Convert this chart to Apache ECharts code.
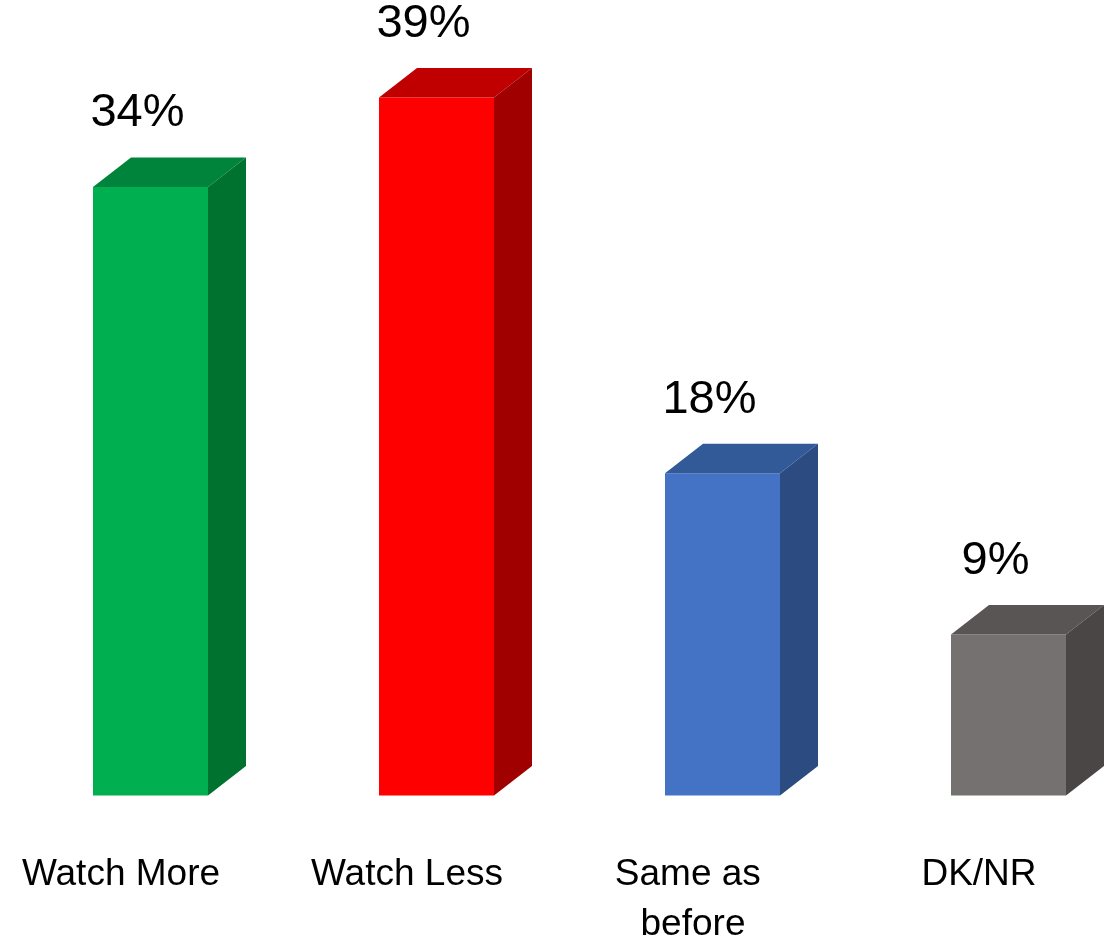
<!DOCTYPE html>
<html>
<head>
<meta charset="utf-8">
<script src="https://cdn.jsdelivr.net/npm/echarts@6/dist/echarts.min.js"></script>
<style>
html,body{margin:0;padding:0;background:#fff;}
#chart{width:1112px;height:939px;}
</style>
</head>
<body>
<div id="chart"></div>
<script>
var categories = ['Watch More', 'Watch Less', 'Same as before', 'DK/NR'];
var values = [34, 39, 18, 9];

var frontColors = ['#00B050', '#FF0000', '#4472C4', '#767171'];
var topColors = ['#00843C', '#C00000', '#335A98', '#5A5555'];
var sideColors = ['#00722F', '#A00000', '#2C4B81', '#4B4646'];

var FONT = '"Liberation Sans", Arial, sans-serif';

var chart = echarts.init(document.getElementById('chart'));

function renderItem(params, api) {
  var idx = params.dataIndex;
  var top = api.coord([api.value(0), api.value(1)]);
  var base = api.coord([api.value(0), 0]);
  var cx = top[0];
  var fw = 115, dx = 38, dy = 29.5;
  var x0 = cx - 28, x1 = x0 + fw;
  var yt = top[1], yb = base[1];
  return {
    type: 'group',
    children: [
      { type: 'rect', shape: { x: x0, y: yt, width: fw, height: yb - yt },
        style: { fill: frontColors[idx] } },
      { type: 'polygon', shape: { points: [[x0, yt], [x0 + dx, yt - dy], [x1 + dx, yt - dy], [x1, yt]] },
        style: { fill: topColors[idx] } },
      { type: 'polygon', shape: { points: [[x1, yt], [x1 + dx, yt - dy], [x1 + dx, yb - dy], [x1, yb]] },
        style: { fill: sideColors[idx] } },
      { type: 'text', style: { x: x0 + fw / 2 - 13, y: yt - 50, text: api.value(1) + '%',
          fill: '#000', font: '47px ' + FONT, align: 'center', verticalAlign: 'bottom' } }
    ]
  };
}

chart.setOption({
  animation: false,
  backgroundColor: '#ffffff',
  grid: { left: -22, right: -10, top: 79.5, bottom: 143.5, containLabel: false, outerBoundsMode: 'none' },
  xAxis: {
    type: 'category',
    data: categories,
    axisLine: { show: false },
    axisTick: { show: false },
    axisLabel: {
      interval: 0,
      color: '#000',
      fontSize: 37,
      fontFamily: FONT,
      lineHeight: 50,
      margin: 54,
      width: 200,
      overflow: 'break'
    }
  },
  yAxis: {
    type: 'value',
    min: 0,
    max: 40,
    show: false,
    splitLine: { show: false }
  },
  series: [{
    type: 'custom',
    renderItem: renderItem,
    clip: false,
    data: categories.map(function (c, i) { return [i, values[i]]; }),
    encode: { x: 0, y: 1 }
  }]
});
</script>
</body>
</html>
